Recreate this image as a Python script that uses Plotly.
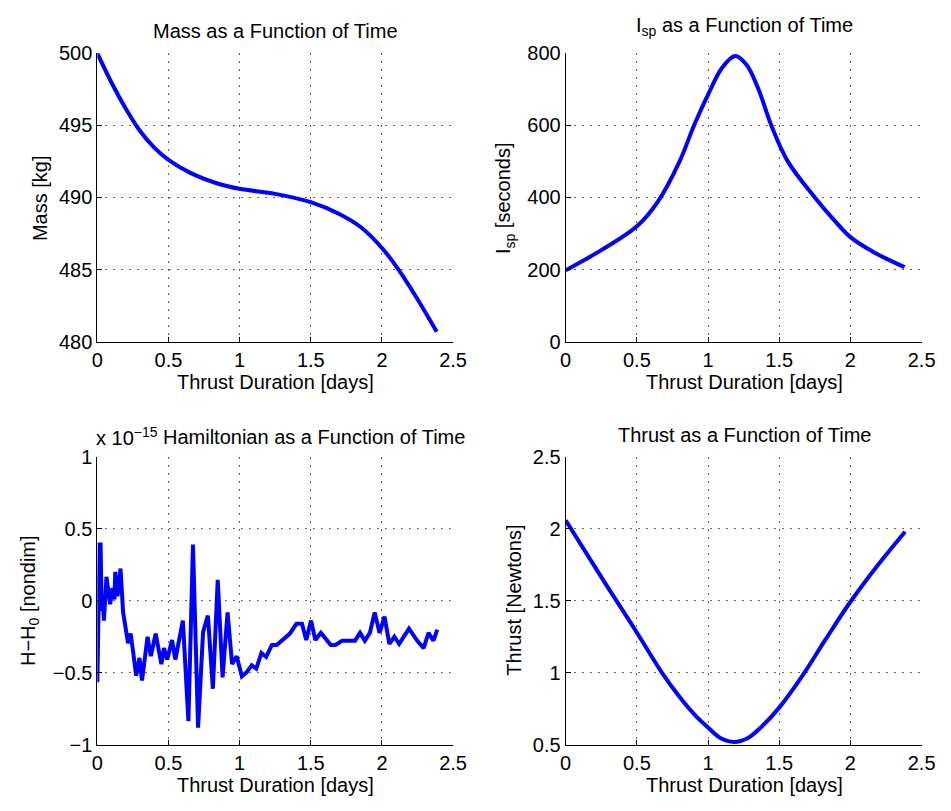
import plotly.graph_objects as go

W, H = 951, 811

# ---------------- data ----------------
t_mass = [0, 0.1, 0.2, 0.3, 0.4, 0.5, 0.65, 0.85, 1.0, 1.25, 1.5,
          1.7, 1.85, 2.0, 2.12, 2.25, 2.385]
mass_kg = [500, 497.95, 496.15, 494.6, 493.45, 492.6, 491.72, 490.95, 490.6,
           490.25, 489.67, 488.85, 487.95, 486.5, 484.95, 482.95, 480.7]

t_isp = [0, 0.25, 0.5, 0.65, 0.8, 0.9, 1.0, 1.1, 1.19, 1.27, 1.35,
         1.444, 1.56, 1.75, 1.89, 2.0, 2.17, 2.38]
isp_s = [198, 254, 320, 390, 500, 598, 685, 760, 792, 768, 704, 600, 500, 400,
         335, 290, 247, 207]

t_ham = [0, 0.004, 0.016, 0.023, 0.03, 0.037, 0.046, 0.064, 0.09, 0.106, 0.12,
         0.126, 0.142, 0.163, 0.181, 0.216, 0.234, 0.252, 0.273, 0.296, 0.314,
         0.353, 0.376, 0.41, 0.45, 0.468, 0.491, 0.525, 0.548, 0.601, 0.64,
         0.672, 0.708, 0.743, 0.777, 0.812, 0.846, 0.88, 0.915, 0.947, 0.979,
         1.016, 1.048, 1.085, 1.117, 1.153, 1.186, 1.227, 1.261, 1.353, 1.399,
         1.438, 1.468, 1.502, 1.532, 1.571, 1.617, 1.64, 1.674, 1.72, 1.811,
         1.846, 1.88, 1.915, 1.949, 1.983, 2.018, 2.052, 2.087, 2.121, 2.19,
         2.247, 2.293, 2.327, 2.362, 2.389]
# H - H0, in units of 1e-15 (nondimensional)
ham_e15 = [-0.565, -0.18, 0.39, 0.39, -0.07, 0.04, -0.138, 0.166, -0.025, 0.088,
           0.009, 0.2, 0.031, 0.223, -0.081, -0.295, -0.228, -0.36, -0.52,
           -0.397, -0.554, -0.25, -0.385, -0.228, -0.44, -0.329, -0.408, -0.273,
           -0.408, -0.138, -0.836, 0.39, -0.881, -0.216, -0.104, -0.611, 0.144,
           -0.532, -0.081, -0.44, -0.385, -0.525, -0.498, -0.448, -0.471, -0.363,
           -0.39, -0.307, -0.307, -0.228, -0.16, -0.16, -0.273, -0.138, -0.273,
           -0.223, -0.284, -0.307, -0.307, -0.277, -0.277, -0.223, -0.277,
           -0.223, -0.081, -0.223, -0.111, -0.3, -0.25, -0.3, -0.194, -0.277,
           -0.329, -0.223, -0.277, -0.2]

t_thrust = [0, 0.286, 0.493, 0.677, 0.791, 0.9, 1.0, 1.09, 1.181, 1.28, 1.38,
            1.501, 1.662, 1.822, 1.994, 2.189, 2.384]
thrust_n = [2.058, 1.608, 1.29, 1.0, 0.844, 0.715, 0.62, 0.545, 0.52, 0.548,
            0.63, 0.76, 0.979, 1.226, 1.484, 1.743, 1.979]

x_ticks = [0, 0.5, 1, 1.5, 2, 2.5]
x_ticklabels = ["0", "0.5", "1", "1.5", "2", "2.5"]
mass_ticks = [480, 485, 490, 495, 500]
isp_ticks = [0, 200, 400, 600, 800]
ham_ticks = [-1, -0.5, 0, 0.5, 1]
ham_ticklabels = ["\u22121", "\u22120.5", "0", "0.5", "1"]
thrust_ticks = [0.5, 1, 1.5, 2, 2.5]
thrust_ticklabels = ["0.5", "1", "1.5", "2", "2.5"]

titles = ["Mass as a Function of Time",
          "I<sub>sp</sub> as a Function of Time",
          "Hamiltonian as a Function of Time",
          "Thrust as a Function of Time"]
x_label = "Thrust Duration [days]"
y_labels = ["Mass [kg]", "I<sub>sp</sub> [seconds]",
            "H\u2212H<sub>0</sub> [nondim]", "Thrust [Newtons]"]
exponent_label = "x 10<sup>\u221215</sup>"

# ---------------- layout geometry (pixels) ----------------
FONT = "Liberation Sans"
FS = 20
LINE_COLOR = "#0000ff"
LW = 4

cols = [(93.3, 456.7), (571.7, 935.3)]
rows = [(43.3, 340.0), (458.0, 754.3)]


def xd(a, b):
    return [a / W, b / W]


def yd(top, bottom):
    return [1 - bottom / H, 1 - top / H]


fig = go.Figure()

panels = [
    (t_mass, mass_kg, 0, 0, [480, 500], mass_ticks, None, "spline"),
    (t_isp, isp_s, 0, 1, [0, 800], isp_ticks, None, "spline"),
    (t_ham, ham_e15, 1, 0, [-1, 1], ham_ticks, ham_ticklabels, "linear"),
    (t_thrust, thrust_n, 1, 1, [0.5, 2.5], thrust_ticks, thrust_ticklabels, "spline"),
]

axis_common = dict(
    showline=True, linecolor="black", linewidth=1,
    ticks="inside", ticklen=5, tickcolor="black", tickwidth=1,
    showgrid=True, gridcolor="#666666", gridwidth=1, griddash="2px,6px",
    zeroline=False, mirror=False,
    tickfont=dict(family=FONT, size=FS, color="black"),
)

for i, (xs, ys, r, c, yr, yt, ytl, shape) in enumerate(panels):
    n = "" if i == 0 else str(i + 1)
    fig.add_trace(go.Scatter(
        x=xs, y=ys, mode="lines",
        line=dict(color=LINE_COLOR, width=LW, shape=shape, smoothing=1.0),
        xaxis="x" + n, yaxis="y" + n, showlegend=False, hoverinfo="skip",
    ))
    fig.layout["xaxis" + n] = dict(
        domain=xd(*cols[c]), range=[0, 2.5], anchor="y" + n,
        tickvals=x_ticks, ticktext=x_ticklabels, **axis_common)
    yax = dict(domain=yd(*rows[r]), range=yr, anchor="x" + n,
               tickvals=yt, **axis_common)
    if ytl is not None:
        yax["ticktext"] = ytl
    fig.layout["yaxis" + n] = yax

ann = []


def add_text(text, x, y, xanchor="center", yanchor="middle", angle=0, size=FS):
    ann.append(dict(
        text=text, x=x / W, y=1 - y / H, xref="paper", yref="paper",
        xanchor=xanchor, yanchor=yanchor, showarrow=False, textangle=angle,
        font=dict(family=FONT, size=size, color="black"),
    ))


# titles
add_text(titles[0], 275, 21)
add_text(titles[1], 754, 16)
add_text(titles[2], 158, 438, xanchor="left")
add_text(titles[3], 754, 436)
add_text(exponent_label, 90, 437, xanchor="left")

# x labels
add_text(x_label, 275, 381)
add_text(x_label, 754, 381)
add_text(x_label, 275, 796)
add_text(x_label, 754, 796)

# y labels
add_text(y_labels[0], 35, 192, angle=-90)
add_text(y_labels[1], 510, 192, angle=-90)
add_text(y_labels[2], 24, 606, angle=-90)
add_text(y_labels[3], 518, 606, angle=-90)

fig.update_layout(
    width=W, height=H,
    margin=dict(l=0, r=0, t=0, b=0),
    paper_bgcolor="white", plot_bgcolor="white",
    annotations=ann,
    font=dict(family=FONT, size=FS, color="black"),
)

fig.write_html(
    "out.html",
    post_script="document.body.style.margin='0';document.body.style.overflow='hidden';",
)
